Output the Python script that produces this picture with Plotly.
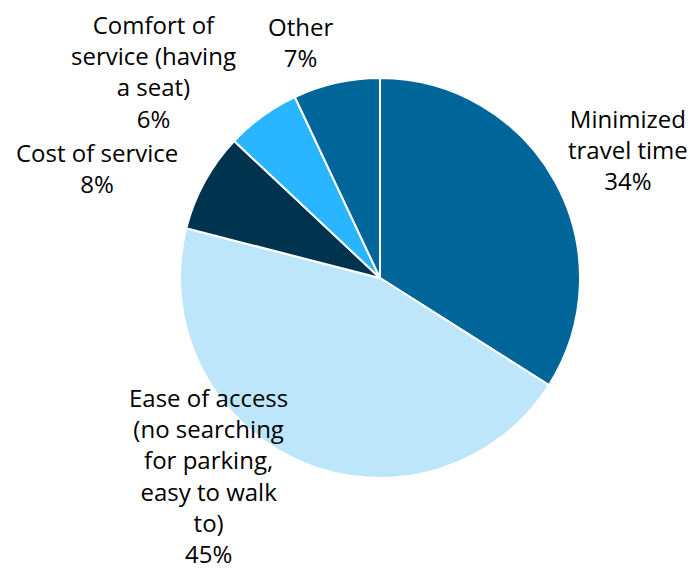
import plotly.graph_objects as go

categories = [
    "Minimized<br>travel time",
    "Ease of access<br>(no searching<br>for parking,<br>easy to walk<br>to)",
    "Cost of service",
    "Comfort of<br>service (having<br>a seat)",
    "Other",
]
values = [34, 45, 8, 6, 7]
colors = ["#006699", "#BDE6FB", "#00334D", "#29B5FF", "#006699"]

# label block centres in window pixels (x, y from top)
label_pos = [(628, 149), (208, 475), (97, 168), (153, 72), (300, 42)]

OFF = 8  # default page body margin
W, H = 696 - OFF, 569 - OFF
cx, cy, r = 380 - OFF, 278 - OFF, 200

fig = go.Figure(go.Pie(
    labels=categories,
    values=values,
    marker=dict(colors=colors, line=dict(color="white", width=2)),
    sort=False,
    direction="clockwise",
    rotation=0,
    textinfo="none",
    hoverinfo="label+percent",
    domain=dict(x=[(cx - r) / W, (cx + r) / W], y=[1 - (cy + r) / H, 1 - (cy - r) / H]),
    showlegend=False,
))

total = sum(values)
for lab, v, (px, py) in zip(categories, values, label_pos):
    fig.add_annotation(
        text=f"{lab}<br>{round(100 * v / total)}%",
        x=(px - OFF) / W, y=1 - (py - OFF) / H, xref="paper", yref="paper",
        xanchor="center", yanchor="middle", align="center",
        showarrow=False, font=dict(size=24, color="#000000"),
    )

fig.update_layout(
    width=W, height=H,
    margin=dict(l=0, r=0, t=0, b=0),
    paper_bgcolor="white", plot_bgcolor="white",
    font=dict(family="'Open Sans', Lato, sans-serif"),
)

fig.write_html("out.html")
